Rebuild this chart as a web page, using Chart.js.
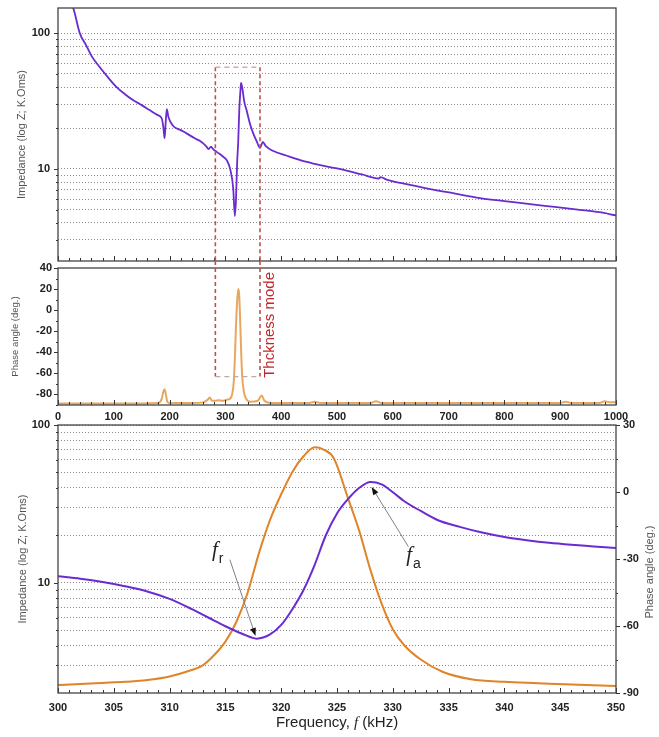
<!DOCTYPE html>
<html>
<head>
<meta charset="utf-8">
<script src="https://cdn.jsdelivr.net/npm/chart.js@4.4.0/dist/chart.umd.min.js"></script>
<style>
  html, body { margin: 0; padding: 0; background: #fff; }
  #wrap { position: relative; width: 659px; height: 737px; overflow: hidden; }
  canvas { position: absolute; left: 0; }
</style>
</head>
<body>
<div id="wrap">
  <canvas id="c1" width="659" height="262" style="top:0px"></canvas>
  <canvas id="c2" width="659" height="164" style="top:261px"></canvas>
  <canvas id="c3" width="659" height="322" style="top:415px"></canvas>
</div>
<script>
// --- wide sweep, 0-1000 kHz ---
const sweepFreq = [25, 30, 39, 50, 60, 75, 90, 105, 120, 135, 150, 165, 178, 186, 189, 191, 193, 195, 198, 206, 220, 231, 245, 254, 265, 270, 274, 278, 285, 295, 303, 309, 314, 317, 319, 321, 323, 325, 327, 328, 330, 334, 338, 344, 350, 356, 362, 367, 372, 385, 410, 434, 460, 487, 510, 545, 575, 578, 590, 620, 667, 710, 756, 800, 846, 890, 935, 970, 1000];
const sweepImpedance = [165, 140, 100, 82, 68, 56, 47, 40, 35.5, 32, 29.5, 27, 25, 23.5, 20, 16.8, 22, 27.5, 24, 20.8, 19.3, 18.2, 16.8, 16.1, 14.8, 14.0, 14.6, 14.0, 13.3, 12.4, 11.5, 9.8, 7.2, 4.5, 6, 11, 16, 28, 38, 43, 40, 31, 27, 21.5, 18.2, 16, 14.3, 15.8, 14.8, 13.6, 12.5, 11.6, 10.9, 10.3, 9.9, 9.1, 8.5, 8.7, 8.3, 7.8, 7.1, 6.6, 6.1, 5.8, 5.5, 5.25, 5.0, 4.8, 4.55];

const phaseFreq = [0, 100, 180, 186, 189, 191, 193, 196, 200, 240, 260, 268, 272, 276, 282, 288, 295, 302, 308, 312, 315, 317, 319, 321, 323, 324.5, 326, 328, 330, 333, 337, 345, 358, 365, 370, 380, 450, 460, 470, 560, 570, 580, 700, 900, 910, 920, 970, 980, 990, 1000];
const phaseAngle = [-88.5, -88.5, -88, -84, -77, -75, -79, -87, -88, -88, -87.5, -85, -83, -86, -86, -85.5, -86, -85, -84, -80, -68, -45, -15, 8, 20, 16, -2, -35, -62, -77, -84, -87, -86, -81, -86, -88, -88, -87, -88, -88, -86.5, -88, -88, -88, -87, -88, -88, -86.5, -87.5, -87.5];

// --- zoom on the thickness mode, 300-350 kHz ---
const zoomImpFreq = [300, 302, 304, 306, 308, 310, 312, 313.5, 315, 316.5, 317.8, 319, 320, 321, 322, 323, 324, 325, 326, 327, 328, 329, 330, 331, 332.5, 334, 336, 338, 340, 342, 344, 346, 348, 350];
const zoomImpedance = [11.0, 10.6, 10.1, 9.5, 8.8, 7.9, 6.8, 6.0, 5.3, 4.75, 4.42, 4.7, 5.4, 6.8, 9.0, 13, 20, 27.5, 34, 40, 43.5, 42, 37.5, 33, 28.5, 25, 22.6, 20.8, 19.5, 18.6, 17.9, 17.4, 17.0, 16.6];

const zoomPhaseFreq = [300, 302, 304, 306, 308, 310, 311.5, 313, 314, 315, 316, 317, 318, 319, 320, 321, 322, 323, 323.8, 324.7, 326, 327, 328, 329, 330, 331, 332.5, 334.5, 337, 340, 343, 346, 350];
const zoomPhase = [-86.4, -86, -85.5, -85, -84.2, -82.6, -80.5, -77.5, -73, -67, -58, -45, -27.5, -12.5, -1, 9, 16, 20, 19, 15.2, -3, -17.5, -35, -50, -61.5, -68.5, -75, -80.6, -83.8, -85, -85.6, -86.2, -86.9];

// --- ticks ---
const sweepTicks = [0, 100, 200, 300, 400, 500, 600, 700, 800, 900, 1000];
const zoomTicks = [300, 305, 310, 315, 320, 325, 330, 335, 340, 345, 350];
const logGrid = [3, 4, 5, 6, 7, 8, 9, 10, 20, 30, 40, 50, 60, 70, 80, 90, 100];
const logLabels = [10, 100];
const phaseTicks = [40, 20, 0, -20, -40, -60, -80];
const phaseMinor = [30, 10, -10, -30, -50, -70, -90];
const zoomPhaseTicks = [30, 0, -30, -60, -90];
const zoomPhaseMinor = [15, -15, -45, -75];

// thickness-mode box (kHz, kOhm, deg)
const thicknessBox = { from: 282, to: 362, zTop: 56, phaseBottom: -63, textF: 380, textPhase: -14 };
// arrow annotations on the zoom panel: [label f, label Z, arrow start f, Z, arrow end f, Z]
const frNote = [313.8, 14.8, 315.4, 14.0, 317.7, 4.6];
const faNote = [331.2, 13.8, 331.4, 16.9, 328.1, 40.5];

const FONT = "'Liberation Sans', Arial, sans-serif";
const PURPLE = '#6a2bd0';
const ORANGE = '#e0842a';
const ORANGE_LIGHT = '#e8a75e';
const tickFont = { family: FONT, size: 11, weight: 'bold' };

function pts(xs, ys) {
  return xs.map((x, i) => ({ x: x, y: ys[i] }));
}

// fixed axis sizes, no extra label padding
function fixWidth(w) {
  return s => { s.width = w; s.paddingTop = 0; s.paddingBottom = 0; };
}
function fixHeight(h) {
  return s => { s.height = h; s.paddingLeft = 0; s.paddingRight = 0; };
}

// frame + ticks (x inward, y outward)
const framePlugin = {
  id: 'frame',
  afterDatasetsDraw(chart, args, opts) {
    const { ctx, chartArea: a, scales } = chart;
    ctx.save();
    ctx.strokeStyle = '#333';
    ctx.lineWidth = 1;
    const x = scales.x;
    for (let v = x.min; v <= x.max + 1e-6; v += opts.xMinor) {
      const px = Math.round(x.getPixelForValue(v)) + 0.5;
      const major = Math.abs(v / opts.xMajor - Math.round(v / opts.xMajor)) < 1e-6;
      ctx.beginPath();
      ctx.moveTo(px, a.bottom);
      ctx.lineTo(px, a.bottom - (major ? 5 : 3));
      ctx.stroke();
    }
    (opts.y || []).forEach(ax => {
      const s = scales[ax.id];
      const edge = ax.side === 'right' ? a.right : a.left;
      const dir = ax.side === 'right' ? 1 : -1;
      const draw = (vals, len) => vals.forEach(v => {
        const py = Math.round(s.getPixelForValue(v)) + 0.5;
        ctx.beginPath();
        ctx.moveTo(edge, py);
        ctx.lineTo(edge + dir * len, py);
        ctx.stroke();
      });
      draw(ax.major, 4);
      draw(ax.minor, 2);
    });
    ctx.strokeStyle = '#444';
    ctx.lineWidth = 1.3;
    ctx.strokeRect(a.left, a.top, a.width, a.height);
    ctx.restore();
  }
};

function logAxis(min, max, title, titlePad) {
  return {
    type: 'logarithmic', min: min, max: max,
    afterBuildTicks: s => { s.ticks = logGrid.map(v => ({ value: v })); },
    afterFit: fixWidth(58),
    ticks: { autoSkip: false, padding: 8, color: '#222', font: tickFont,
             callback: v => logLabels.includes(v) ? String(v) : '' },
    grid: { color: '#8a8a8a', lineWidth: 1, drawTicks: false, borderDash: [1, 2] },
    border: { display: false, dash: [1, 2] },
    title: { display: true, text: title, color: '#555',
             font: { family: FONT, size: 11 }, padding: { top: titlePad, bottom: 0 } }
  };
}

// --- top panel: impedance 0-1000 kHz ---
new Chart(document.getElementById('c1'), {
  type: 'line',
  data: { datasets: [{ data: pts(sweepFreq, sweepImpedance), borderColor: PURPLE, borderWidth: 1.8,
                       pointRadius: 0, cubicInterpolationMode: 'monotone' }] },
  options: {
    responsive: false, animation: false,
    layout: { padding: { top: 8, right: 43, bottom: 1, left: 0 } },
    plugins: {
      legend: { display: false }, tooltip: { enabled: false },
      frame: { xMajor: 100, xMinor: 20,
               y: [{ id: 'y', side: 'left', major: [10, 100], minor: logGrid.filter(v => !logLabels.includes(v)) }] }
    },
    scales: {
      x: { type: 'linear', min: 0, max: 1000, display: false },
      y: logAxis(2.1, 153, 'Impedance (log Z; K.Oms)', 15)
    }
  },
  plugins: [framePlugin, {
    id: 'boxTop',
    afterDatasetsDraw(chart) {
      const { ctx, scales: { x, y } } = chart;
      const x1 = x.getPixelForValue(thicknessBox.from);
      const x2 = x.getPixelForValue(thicknessBox.to);
      const yt = y.getPixelForValue(thicknessBox.zTop);
      ctx.save();
      ctx.lineWidth = 1.6;
      ctx.setLineDash([4, 3]);
      ctx.strokeStyle = '#c0504d';
      [x1, x2].forEach(px => {
        ctx.beginPath(); ctx.moveTo(px, yt); ctx.lineTo(px, chart.height); ctx.stroke();
      });
      ctx.strokeStyle = '#e2a4a4';
      ctx.setLineDash([5, 4]);
      ctx.beginPath(); ctx.moveTo(x1, yt); ctx.lineTo(x2, yt); ctx.stroke();
      ctx.restore();
    }
  }]
});

// --- middle panel: phase 0-1000 kHz ---
new Chart(document.getElementById('c2'), {
  type: 'line',
  data: { datasets: [{ data: pts(phaseFreq, phaseAngle), borderColor: ORANGE_LIGHT, borderWidth: 2,
                       pointRadius: 0, cubicInterpolationMode: 'monotone' }] },
  options: {
    responsive: false, animation: false,
    layout: { padding: { top: 7, right: 43, bottom: 0, left: 0 } },
    plugins: {
      legend: { display: false }, tooltip: { enabled: false },
      frame: { xMajor: 100, xMinor: 20,
               y: [{ id: 'y', side: 'left', major: phaseTicks, minor: phaseMinor }] }
    },
    scales: {
      x: { type: 'linear', min: 0, max: 1000,
           afterBuildTicks: s => { s.ticks = sweepTicks.map(v => ({ value: v })); },
           afterFit: fixHeight(20),
           ticks: { autoSkip: false, maxRotation: 0, padding: 5, color: '#222', font: tickFont,
                    callback: v => String(v) },
           grid: { display: false, drawTicks: false }, border: { display: false } },
      y: { type: 'linear', min: -90, max: 40,
           afterBuildTicks: s => { s.ticks = phaseTicks.map(v => ({ value: v })); },
           afterFit: fixWidth(58),
           ticks: { autoSkip: false, padding: 6, color: '#222', font: tickFont },
           grid: { display: false, drawTicks: false }, border: { display: false },
           title: { display: true, text: 'Phase angle (deg.)', color: '#555',
                    font: { family: FONT, size: 9.5 }, padding: { top: 10, bottom: 0 } } }
    }
  },
  plugins: [framePlugin, {
    id: 'boxBottom',
    afterDatasetsDraw(chart) {
      const { ctx, scales: { x, y } } = chart;
      const x1 = x.getPixelForValue(thicknessBox.from);
      const x2 = x.getPixelForValue(thicknessBox.to);
      const yb = y.getPixelForValue(thicknessBox.phaseBottom);
      ctx.save();
      ctx.lineWidth = 1.6;
      ctx.setLineDash([4, 3]);
      ctx.strokeStyle = '#c0504d';
      [x1, x2].forEach(px => {
        ctx.beginPath(); ctx.moveTo(px, 0); ctx.lineTo(px, yb); ctx.stroke();
      });
      ctx.strokeStyle = '#c4a8a8';
      ctx.setLineDash([5, 4]);
      ctx.lineWidth = 1.2;
      ctx.beginPath(); ctx.moveTo(x1, yb); ctx.lineTo(x2, yb); ctx.stroke();
      ctx.setLineDash([]);
      ctx.translate(x.getPixelForValue(thicknessBox.textF), y.getPixelForValue(thicknessBox.textPhase));
      ctx.rotate(-Math.PI / 2);
      ctx.fillStyle = '#c0282d';
      ctx.font = '15px ' + FONT;
      ctx.textAlign = 'center';
      ctx.textBaseline = 'middle';
      ctx.fillText('Thckness mode', 0, 0);
      ctx.restore();
    }
  }]
});

// --- bottom panel: zoom 300-350 kHz, two y axes ---
function arrowNote(ctx, x, y, n, sub) {
  const lx = x.getPixelForValue(n[0]), ly = y.getPixelForValue(n[1]);
  ctx.fillStyle = '#222';
  ctx.font = 'italic 21px "Liberation Serif", serif';
  ctx.textAlign = 'left';
  ctx.textBaseline = 'alphabetic';
  ctx.fillText('f', lx, ly);
  const w = ctx.measureText('f').width;
  ctx.font = '14px ' + FONT;
  ctx.fillText(sub, lx + w + 1, ly + 7);
  const sx = x.getPixelForValue(n[2]), sy = y.getPixelForValue(n[3]);
  const ex = x.getPixelForValue(n[4]), ey = y.getPixelForValue(n[5]);
  const ang = Math.atan2(ey - sy, ex - sx);
  ctx.strokeStyle = '#808080';
  ctx.lineWidth = 1;
  ctx.beginPath(); ctx.moveTo(sx, sy); ctx.lineTo(ex - 5 * Math.cos(ang), ey - 5 * Math.sin(ang)); ctx.stroke();
  ctx.fillStyle = '#111';
  ctx.beginPath();
  ctx.moveTo(ex, ey);
  ctx.lineTo(ex - 8 * Math.cos(ang) + 3 * Math.sin(ang), ey - 8 * Math.sin(ang) - 3 * Math.cos(ang));
  ctx.lineTo(ex - 8 * Math.cos(ang) - 3 * Math.sin(ang), ey - 8 * Math.sin(ang) + 3 * Math.cos(ang));
  ctx.closePath();
  ctx.fill();
}

new Chart(document.getElementById('c3'), {
  type: 'line',
  data: { datasets: [
    { data: pts(zoomImpFreq, zoomImpedance), borderColor: PURPLE, borderWidth: 2,
      pointRadius: 0, cubicInterpolationMode: 'monotone', yAxisID: 'y' },
    { data: pts(zoomPhaseFreq, zoomPhase), borderColor: ORANGE, borderWidth: 2,
      pointRadius: 0, cubicInterpolationMode: 'monotone', yAxisID: 'y2' }
  ] },
  options: {
    responsive: false, animation: false,
    layout: { padding: { top: 10, right: 0, bottom: 0, left: 0 } },
    plugins: {
      legend: { display: false }, tooltip: { enabled: false },
      frame: { xMajor: 5, xMinor: 1,
               y: [{ id: 'y', side: 'left', major: [10, 100], minor: logGrid.filter(v => !logLabels.includes(v)) },
                   { id: 'y2', side: 'right', major: zoomPhaseTicks, minor: zoomPhaseMinor }] }
    },
    scales: {
      x: { type: 'linear', min: 300, max: 350,
           afterBuildTicks: s => { s.ticks = zoomTicks.map(v => ({ value: v })); },
           afterFit: fixHeight(44),
           ticks: { autoSkip: false, maxRotation: 0, padding: 8, color: '#222', font: tickFont },
           grid: { display: false, drawTicks: false }, border: { display: false } },
      y: logAxis(2, 100, 'Impedance (log Z; K.Oms)', 16),
      y2: { type: 'linear', position: 'right', min: -90, max: 30,
            afterBuildTicks: s => { s.ticks = zoomPhaseTicks.map(v => ({ value: v })); },
            afterFit: fixWidth(43),
            ticks: { autoSkip: false, padding: 7, color: '#222', font: tickFont },
            grid: { display: false, drawTicks: false }, border: { display: false } }
    }
  },
  plugins: [framePlugin, {
    id: 'notes',
    afterDatasetsDraw(chart) {
      const { ctx, chartArea: a, scales: { x, y } } = chart;
      ctx.save();
      arrowNote(ctx, x, y, frNote, 'r');
      arrowNote(ctx, x, y, faNote, 'a');
      // right axis title, reading bottom to top
      ctx.save();
      ctx.translate(650, (a.top + a.bottom) / 2 + 13);
      ctx.rotate(-Math.PI / 2);
      ctx.fillStyle = '#555';
      ctx.font = '11px ' + FONT;
      ctx.textAlign = 'center';
      ctx.textBaseline = 'middle';
      ctx.fillText('Phase angle (deg.)', 0, 0);
      ctx.restore();
      // x axis title with italic f
      const parts = [['Frequency, ', '15px ' + FONT], ['f', 'italic 15px "Liberation Serif", serif'], [' (kHz)', '15px ' + FONT]];
      let total = 0;
      parts.forEach(p => { ctx.font = p[1]; total += ctx.measureText(p[0]).width; });
      let cx = (a.left + a.right) / 2 - total / 2;
      ctx.fillStyle = '#222';
      ctx.textAlign = 'left';
      ctx.textBaseline = 'middle';
      parts.forEach(p => { ctx.font = p[1]; ctx.fillText(p[0], cx, a.bottom + 30); cx += ctx.measureText(p[0]).width; });
      ctx.restore();
    }
  }]
});
</script>
</body>
</html>
